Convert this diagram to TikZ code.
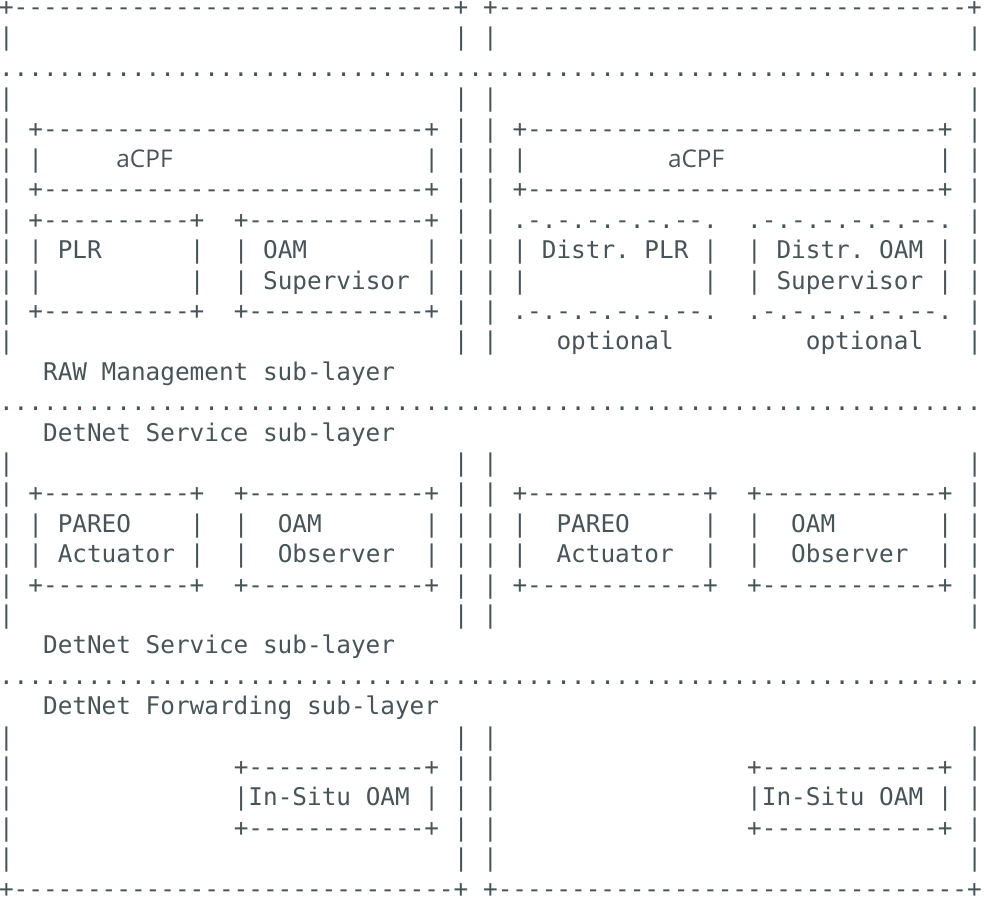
\documentclass[tikz,border=0pt]{standalone}
\usepackage{fontspec}
\setmonofont{DejaVu Sans Mono}
\newfontfamily\cpffont{Open Sans}
\usepackage{tikz}
\definecolor{asciigray}{RGB}{72,84,88}
\tikzset{asc/.style={font=\ttfamily\fontsize{12.18}{15}\selectfont,text=asciigray,inner sep=0pt,anchor=base west},
cpf/.style={asc,font=\cpffont\fontsize{12.18}{15}\selectfont}}

\begin{document}
\begin{tikzpicture}[x=7.335pt,y=-15.2pt]
\useasboundingbox (0,0) rectangle (67.08,29.57);
\begin{scope}[shift={(-0.09,0.51)}]
\foreach \row in {0,29}{
\node[asc] (frameL\row) at (0,\row) {+------------------------------+};
\node[asc] (frameR\row) at (33,\row) {+--------------------------------+};
}
\foreach \row in {1,3,4,5,6,7,8,9,10,11,15,16,17,18,19,20,24,25,26,27,28}{
\foreach \col in {0,31,33,66}{
\node[asc] (bar\col-\row) at (\col,\row) {|};
}
}
\foreach \row in {2,13,22}{
\node[asc] (sep\row) at (0,\row) {...................................................................};
}

\foreach \row in {4,6}{
\node[asc] (cpfboxL\row) at (2,\row) {+--------------------------+};
\node[asc] (cpfboxR\row) at (35,\row) {+----------------------------+};
}
\foreach \col in {2,29,35,64}{
\node[asc] (cpfbar\col) at (\col,5) {|};
}
\node[cpf] (cpfL) at (8,5) {aCPF};
\node[cpf] (cpfR) at (45.6,5) {aCPF};

\foreach \row in {7,10}{
\node[asc] (plrbox\row) at (2,\row) {+----------+};
\node[asc] (supbox\row) at (16,\row) {+------------+};
\node[asc] (dplrbox\row) at (35,\row) {.-.-.-.-.-.--.};
\node[asc] (dsupbox\row) at (51,\row) {.-.-.-.-.-.--.};
}
\foreach \row in {8,9,17,18}{
\foreach \col in {2,13,16,29,35,48,51,64}{
\node[asc] (boxbar\col-\row) at (\col,\row) {|};
}
}
\node[asc] (plr) at (4,8) {PLR};
\node[asc] (oamsup) at (18,8) {OAM};
\node[asc] (sup) at (18,9) {Supervisor};
\node[asc] (dplr) at (37,8) {Distr. PLR};
\node[asc] (doam) at (53,8) {Distr. OAM};
\node[asc] (dsup) at (53,9) {Supervisor};
\node[asc] (optL) at (38,11) {optional};
\node[asc] (optR) at (55,11) {optional};
\node[asc] (raw) at (3,12) {RAW Management sub-layer};
\node[asc] (svc) at (3,14) {DetNet Service sub-layer};

\foreach \row in {16,19}{
\node[asc] (pareoboxL\row) at (2,\row) {+----------+};
\node[asc] (obsboxL\row) at (16,\row) {+------------+};
\node[asc] (pareoboxR\row) at (35,\row) {+------------+};
\node[asc] (obsboxR\row) at (51,\row) {+------------+};
}
\node[asc] (pareoL) at (4,17) {PAREO};
\node[asc] (actL) at (4,18) {Actuator};
\node[asc] (oamL) at (19,17) {OAM};
\node[asc] (obsL) at (19,18) {Observer};
\node[asc] (pareoR) at (38,17) {PAREO};
\node[asc] (actR) at (38,18) {Actuator};
\node[asc] (oamR) at (54,17) {OAM};
\node[asc] (obsR) at (54,18) {Observer};
\node[asc] (svc2) at (3,21) {DetNet Service sub-layer};
\node[asc] (fwd) at (3,23) {DetNet Forwarding sub-layer};

\foreach \row in {25,27}{
\node[asc] (situboxL\row) at (16,\row) {+------------+};
\node[asc] (situboxR\row) at (51,\row) {+------------+};
}
\foreach \col in {16,29,51,64}{
\node[asc] (situbar\col) at (\col,26) {|};
}
\node[asc] (situL) at (17,26) {In-Situ OAM};
\node[asc] (situR) at (52,26) {In-Situ OAM};
\end{scope}
\end{tikzpicture}
\end{document}
